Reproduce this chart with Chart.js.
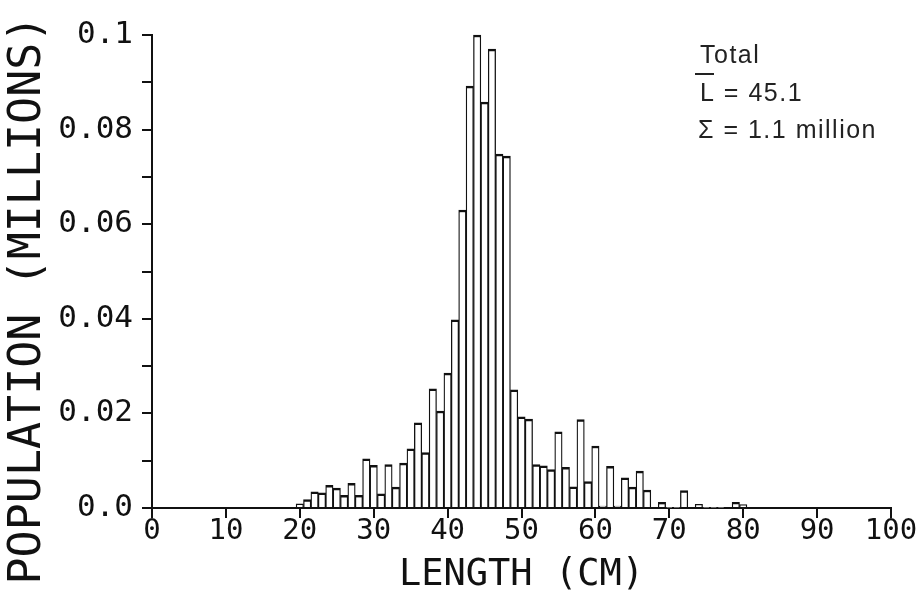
<!DOCTYPE html>
<html>
<head>
<meta charset="utf-8">
<title>Length distribution</title>
<script src="https://cdn.jsdelivr.net/npm/chart.js@4.4.1/dist/chart.umd.min.js"></script>
<style>
    html, body { margin: 0; padding: 0; background: #fff; }
    #lengthChart { display: block; }
</style>
</head>
<body>
<canvas id="lengthChart" width="922" height="594"></canvas>
<script>
// Length bins (cm, bin centres) and population (millions)
const lengths = [20, 21, 22, 23, 24, 25, 26, 27, 28, 29,
                 30, 31, 32, 33, 34, 35, 36, 37, 38, 39,
                 40, 41, 42, 43, 44, 45, 46, 47, 48, 49,
                 50, 51, 52, 53, 54, 55, 56, 57, 58, 59,
                 60, 61, 62, 63, 64, 65, 66, 67, 68, 69,
                 70, 71, 72, 73, 74, 75, 76, 77, 78, 79,
                 80, 81];
const population = [0.0009, 0.0018, 0.0034, 0.0032, 0.0048, 0.0042, 0.0027, 0.0052, 0.0027, 0.0104,
                    0.0090, 0.0030, 0.0092, 0.0044, 0.0095, 0.0125, 0.0180, 0.0117, 0.0252, 0.0205,
                    0.0285, 0.0398, 0.0630, 0.0892, 0.1000, 0.0858, 0.0970, 0.0748, 0.0744, 0.0250,
                    0.0193, 0.0188, 0.0092, 0.0089, 0.0081, 0.0161, 0.0086, 0.0045, 0.0187, 0.0056,
                    0.0131, 0.0004, 0.0088, 0.0004, 0.0064, 0.0044, 0.0078, 0.0038, 0.0002, 0.0012,
                    0.0001, 0.0001, 0.0037, 0.0002, 0.0008, 0.0001, 0.0001, 0.0001, 0.0002, 0.0012,
                    0.0007, 0.0002];

const xTickLabels = ['0', '10', '20', '30', '40', '50', '60', '70', '80', '90', '100'];
const yTickLabels = ['0.0', '', '0.02', '', '0.04', '', '0.06', '', '0.08', '', '0.1'];

const xTitle = 'LENGTH (CM)';
const yTitle = 'POPULATION (MILLIONS)';
const noteLines = ['Total', 'L = 45.1', 'Σ = 1.1 million'];

const ink = '#111';
const monoFont = 'DejaVu Sans Mono';

// y title and the summary box are drawn by hand
const extraText = {
    id: 'extraText',
    afterDraw(chart) {
        const ctx = chart.ctx;
        ctx.save();
        ctx.fillStyle = ink;

        ctx.translate(40, 300);
        ctx.rotate(-Math.PI / 2);
        ctx.font = '45px "' + monoFont + '"';
        ctx.textAlign = 'center';
        ctx.textBaseline = 'alphabetic';
        ctx.fillText(yTitle, 0, 0);
        ctx.setTransform(1, 0, 0, 1, 0, 0);

        ctx.fillStyle = '#222';
        ctx.font = '25px "Liberation Sans"';
        ctx.letterSpacing = '1.5px';
        ctx.textAlign = 'left';
        ctx.fillText(noteLines[0], 700, 63);
        ctx.fillText(noteLines[1], 700, 101);
        ctx.fillText(noteLines[2], 698, 138);

        // bar over the L
        ctx.strokeStyle = '#222';
        ctx.lineWidth = 2;
        ctx.beginPath();
        ctx.moveTo(695, 74);
        ctx.lineTo(714, 74);
        ctx.stroke();
        ctx.restore();
    }
};

function createLengthChart() {
    const ctx = document.getElementById('lengthChart').getContext('2d');

    new Chart(ctx, {
        type: 'bar',
        data: {
            datasets: [{
                data: lengths.map((len, i) => ({ x: len, y: population[i] })),
                backgroundColor: '#fff',
                borderColor: ink,
                borderWidth: { top: 2.5, left: 1.3, right: 1.3, bottom: 0 },
                barPercentage: 1,
                categoryPercentage: 1,
                clip: false
            }]
        },
        options: {
            responsive: false,
            animation: false,
            devicePixelRatio: 1,
            layout: {
                padding: { top: 35, right: 31, bottom: 0, left: 0 }
            },
            plugins: {
                legend: { display: false },
                tooltip: { enabled: false }
            },
            scales: {
                x: {
                    type: 'linear',
                    min: 0,
                    max: 100,
                    offset: false,
                    afterFit: scale => { scale.height = 86; },
                    grid: {
                        offset: false,
                        drawOnChartArea: false,
                        drawTicks: true,
                        tickLength: 10,
                        color: ink,
                        lineWidth: 2
                    },
                    border: { display: true, color: ink, width: 2 },
                    ticks: {
                        stepSize: 10,
                        autoSkip: false,
                        maxRotation: 0,
                        padding: -4,
                        color: ink,
                        font: { family: monoFont, size: 29 },
                        callback: (value, index) => xTickLabels[index]
                    },
                    title: {
                        display: true,
                        text: xTitle,
                        color: ink,
                        font: { family: monoFont, size: 37, lineHeight: 1 },
                        padding: { top: 0, bottom: 0 }
                    }
                },
                y: {
                    min: 0,
                    max: 0.1,
                    afterFit: scale => { scale.width = 152; },
                    grid: {
                        drawOnChartArea: false,
                        drawTicks: true,
                        tickLength: 10,
                        color: ink,
                        lineWidth: 2
                    },
                    border: { display: true, color: ink, width: 2 },
                    ticks: {
                        stepSize: 0.01,
                        autoSkip: false,
                        padding: 9,
                        color: ink,
                        font: { family: monoFont, size: 31 },
                        callback: (value, index) => yTickLabels[index]
                    }
                }
            }
        },
        plugins: [extraText]
    });
}

createLengthChart();
</script>
</body>
</html>
